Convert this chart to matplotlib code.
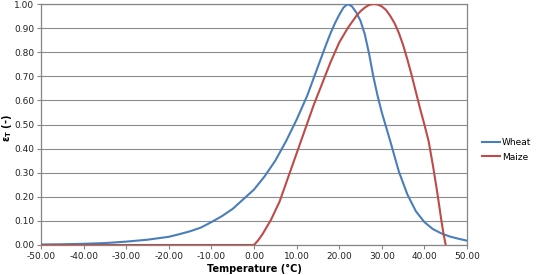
import numpy as np
import matplotlib
matplotlib.use("Agg")
import matplotlib.pyplot as plt

# temperature (deg C) and response
wheat_t = [-50, -45, -40, -35, -30, -25, -20, -17.5, -15, -12.5, -10, -7.5, -5, -2.5,
           0, 2.5, 5, 7.5, 10, 12.5, 15, 17, 18, 19, 20, 21, 22, 23, 24, 25, 26, 27, 28,
           29, 30, 31, 32, 34, 36, 38, 40, 42, 44, 46, 48, 50]
wheat_e = [0.002, 0.003, 0.005, 0.008, 0.014, 0.022, 0.034, 0.045, 0.057, 0.072, 0.095,
           0.12, 0.15, 0.19, 0.23, 0.285, 0.35, 0.43, 0.52, 0.62, 0.74, 0.835, 0.88, 0.92,
           0.955, 0.985, 1.0, 0.99, 0.965, 0.93, 0.875, 0.795, 0.70, 0.62, 0.55, 0.49,
           0.43, 0.305, 0.21, 0.14, 0.095, 0.066, 0.048, 0.035, 0.026, 0.018]

maize_t = [-50, 0, 1, 2, 4, 6, 8, 10, 12, 14, 16, 18, 20, 22, 24, 25, 26, 27, 28, 29,
           30, 31, 32, 33, 34, 35, 36, 37, 38, 39, 40, 41, 42, 43, 44, 44.5, 45]
maize_e = [0.0, 0.0, 0.02, 0.045, 0.105, 0.18, 0.28, 0.38, 0.48, 0.58, 0.67, 0.76, 0.84,
           0.90, 0.95, 0.97, 0.985, 0.996, 1.0, 0.998, 0.99, 0.975, 0.95, 0.92, 0.88,
           0.83, 0.77, 0.705, 0.635, 0.565, 0.50, 0.43, 0.33, 0.22, 0.10, 0.045, 0.0]

x_ticks = np.arange(-50, 51, 10)
y_ticks = np.arange(0, 1.01, 0.1)

fig = plt.figure(figsize=(5.36, 2.75), dpi=100)
ax = fig.add_axes([41 / 536, 30 / 275, 426 / 536, 241 / 275])

ax.plot(wheat_t, wheat_e, color='#4a7ebb', lw=1.5, label='Wheat', zorder=3)
ax.plot(maize_t, maize_e, color='#be4b48', lw=1.5, label='Maize', zorder=3)

ax.set_xlim(-50, 50)
ax.set_ylim(0, 1)
ax.set_xticks(x_ticks)
ax.set_yticks(y_ticks)
ax.set_xticklabels(['%.2f' % v for v in x_ticks])
ax.set_yticklabels(['%.2f' % v for v in y_ticks])
ax.tick_params(labelsize=6.5, length=3, width=0.8, direction='out', pad=2,
               colors='#868686', labelcolor='#222222')
ax.yaxis.grid(True, color='#8c8c8c', lw=0.8)
ax.set_axisbelow(True)
for s in ax.spines.values():
    s.set_color('#868686')
    s.set_linewidth(0.9)

fig.text(7 / 536, 1 - 128 / 275, r'$\mathbf{\epsilon_T}$ (-)', fontsize=7, fontweight='bold',
         rotation=90, ha='center', va='center')
fig.text(254 / 536, 1 - 264 / 275, 'Temperature (°C)', fontsize=7, fontweight='bold',
         ha='center', va='top')

fig.legend(loc='upper left', bbox_to_anchor=(474 / 536, 1 - 130 / 275), frameon=False,
           fontsize=6.5, handlelength=2.0, handletextpad=0.2, labelspacing=0.6)

fig.savefig('out.png', dpi=100)
